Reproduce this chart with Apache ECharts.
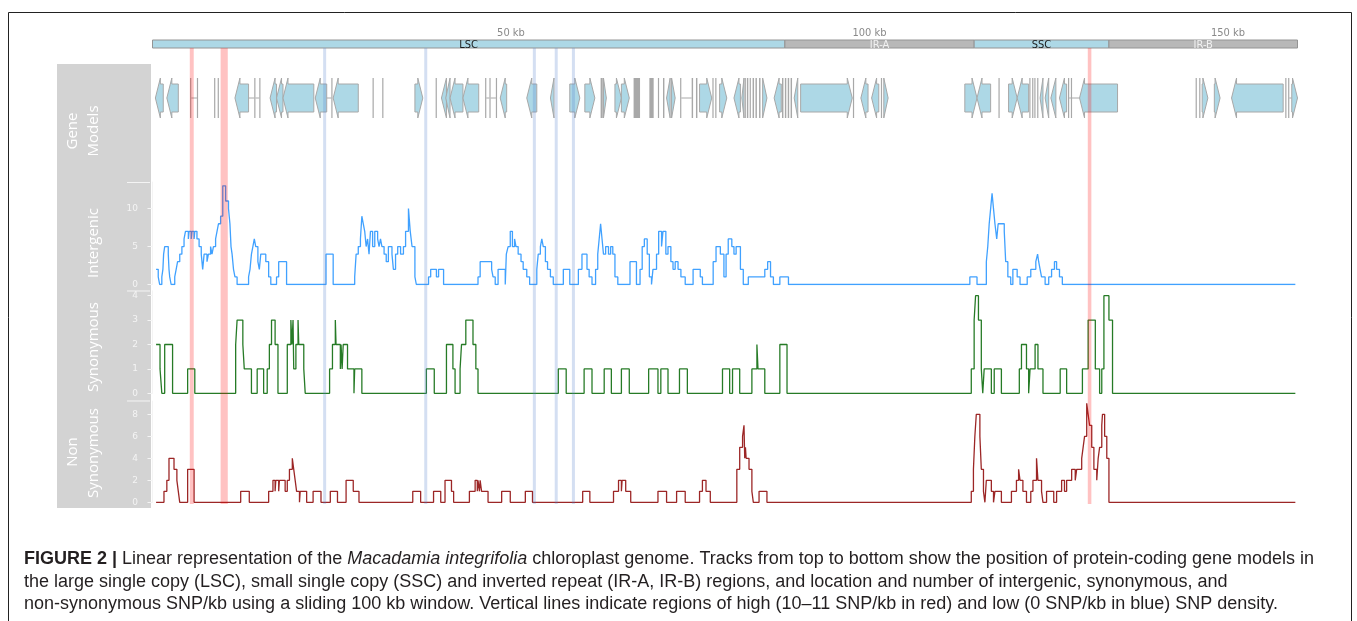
<!DOCTYPE html>
<html><head><meta charset="utf-8">
<script src="https://cdn.jsdelivr.net/npm/echarts@6/dist/echarts.min.js"></script>
<style>html,body{margin:0;padding:0;background:#fff}#c{width:1357px;height:621px}</style>
</head><body><div id="c"></div><script>
// ---------- data (positions in kb) ----------
const genomeKb = 159.7;
const tickKb = [50, 100, 150];
const regionStart = [0, 88.2, 114.6, 133.4];
const regionEnd = [88.2, 114.6, 133.4, 159.7];
const regionName = ['LSC', 'IR-A', 'SSC', 'IR-B'];
const regionRepeat = [0, 1, 0, 1];

// gene models: [start, end, strand (1 / -1 / 0 = tiny), grey]
const genes = [
[0.4,1.5,-1,0],[2.0,3.6,-1,0],[5.25,5.4,0,0],[6.2,6.35,0,0],[8.6,8.75,0,0],[9.1,9.25,0,0],
[11.5,13.4,-1,0],[14.2,14.35,0,0],[14.9,15.05,0,0],[16.4,17.3,-1,0],[17.3,18.2,-1,0],
[18.2,22.5,-1,0],[22.7,24.3,-1,0],[24.95,25.1,0,0],[25.2,28.7,-1,0],[30.7,30.85,0,0],[32.05,32.2,0,0],
[36.6,37.7,1,0],[39.5,39.65,0,0],[40.3,41.0,-1,0],[40.9,41.5,-1,0],[41.5,43.3,-1,0],[43.3,45.5,-1,0],
[46.4,46.55,0,0],[47.0,47.15,0,0],[47.9,48.05,0,0],[48.5,49.4,-1,0],[52.2,53.6,-1,0],[55.5,56.0,-1,0],
[58.2,59.6,1,0],[60.3,61.7,1,0],[62.5,62.8,0,0],[62.9,63.3,1,0],[64.5,65.4,1,0],[65.4,66.5,1,0],
[67.1,68.0,0,1],[69.3,69.9,0,1],[70.5,70.65,0,0],[71.2,71.4,0,0],[71.7,72.2,-1,0],[72.4,72.9,1,0],
[73.6,73.75,0,0],[75.2,75.4,0,0],[75.8,76.0,0,0],[76.3,78.0,1,0],[78.1,78.25,0,0],[78.5,78.65,0,0],
[79.1,80.1,1,0],[81.1,82.0,-1,0],[82.2,82.5,-1,0],[82.6,82.75,0,0],[82.9,83.1,0,0],[83.3,83.45,0,0],
[83.7,83.9,0,0],[84.1,84.3,0,0],[84.6,84.8,0,0],[85.1,85.7,1,0],[86.7,87.7,-1,0],[87.8,88.0,0,0],
[88.2,88.4,0,0],[88.6,88.8,0,0],[89.0,89.2,0,0],[89.5,90.0,-1,0],[90.4,97.6,1,0],[97.7,97.85,0,0],
[98.8,99.8,-1,0],[100.3,101.3,-1,0],[101.6,101.75,0,0],[102.0,102.6,1,0],
[113.3,115.0,1,0],[115.0,116.9,-1,0],[118.0,118.15,0,0],[119.4,120.6,1,0],[120.6,122.2,-1,0],
[122.3,122.45,0,0],[122.7,122.85,0,0],[123.0,123.15,0,0],[123.4,123.55,0,0],[123.8,124.2,-1,0],
[124.5,125.0,-1,0],[125.3,126.0,-1,0],[126.5,127.5,-1,0],[127.7,127.85,0,0],[128.1,128.25,0,0],
[129.3,134.6,-1,0],[145.5,145.65,0,0],[146.0,146.15,0,0],[146.4,147.2,1,0],[148.1,148.9,1,0],
[150.5,157.7,-1,0],[158.0,158.15,0,0],[158.4,158.55,0,0],[158.9,159.7,1,0]
];
const introns = [[5.4,6.2],[13.4,14.2],[14.35,14.9],[24.3,24.95],[46.55,47.0],[47.15,47.9],
  [73.75,75.2],[127.85,128.1],[128.25,129.3],[158.55,158.9]];

// highlighted windows: [start, end, high(1)/low(0)]
const highlights = [[5.2,5.75,1],[9.5,10.5,1],[130.45,130.95,1],
  [23.8,24.2,0],[37.9,38.3,0],[53.05,53.45,0],[56.1,56.5,0],[58.5,58.9,0]];

// SNP / kb step tracks: [position kb, value]
const intergenic = [
[0.5,2],[0.8,1],[1.0,0],[1.3,1],[1.45,2],[1.55,4],[1.7,5],[2.2,4],[2.3,2],[2.4,1],[2.6,0],[3.1,1],[3.3,2],
[3.5,3],[3.8,4],[4.1,5],[4.4,6],[4.6,7],[5.0,6],[5.1,7],[5.4,6],[5.5,7],[5.8,6],[5.9,7],[6.2,6],[6.5,5],
[6.8,4],[7.0,2],[7.2,4],[7.6,3],[7.8,4],[8.1,5],[8.3,4],[8.5,5],[8.8,6],[9.0,7],[9.2,8],[9.5,9],[9.8,13],
[10.2,11],[10.6,10],[10.8,8],[10.95,5],[11.1,4],[11.3,2],[11.5,1],[11.8,0],[13.4,1],[13.6,2],[13.8,4],
[14.0,5],[14.2,6],[14.4,5],[14.7,3],[14.9,2],[15.1,4],[15.8,3],[16.2,1],[16.5,0],[17.3,1],[17.6,3],[18.7,0],
[24.2,4],[25.2,0],[28.2,1],[28.4,4],[28.7,5],[29.0,6],[29.2,9],[29.4,8],[29.6,7],[29.8,5],[30.0,6],[30.2,4],
[30.4,7],[30.7,5],[31.0,7],[31.4,6],[31.6,5],[31.8,6],[32.0,5],[32.3,4],[32.6,3],[32.9,5],[33.4,4],[33.6,2],
[33.9,4],[34.2,5],[34.6,4],[35.0,5],[35.3,7],[35.7,10],[35.95,7],[36.2,5],[36.6,1],[36.8,0],[38.5,1],[38.8,2],
[39.6,1],[39.9,2],[40.6,0],[45.4,1],[45.7,3],[47.3,2],[47.5,1],[47.8,0],[48.2,2],[49.2,0],[49.35,4],[49.6,5],
[49.9,7],[50.2,5],[50.5,6],[50.7,5],[51.0,4],[51.4,3],[51.7,2],[52.2,1],[52.6,0],[53.6,2],[53.8,4],[54.1,5],
[54.3,6],[54.5,5],[54.8,3],[55.1,2],[55.5,1],[55.9,0],[57.3,2],[58.2,0],[59.4,2],[59.9,4],[60.6,2],[60.9,1],
[61.3,0],[61.8,2],[62.1,4],[62.3,6],[62.5,8],[62.7,6],[62.9,4],[63.2,5],[63.6,4],[63.9,5],[64.2,4],[64.5,1],
[64.9,0],[66.6,3],[67.5,0],[68.0,2],[68.3,5],[68.6,6],[69.0,4],[69.3,1],[69.6,0],[69.8,2],[70.3,4],[70.6,7],
[71.0,5],[71.2,7],[71.6,4],[71.9,5],[72.3,3],[72.6,2],[72.9,3],[73.3,2],[73.7,1],[74.3,0],[75.4,2],[76.4,1],
[76.7,0],[78.2,3],[78.6,5],[79.2,4],[79.7,1],[80.0,4],[80.3,6],[80.8,5],[81.1,4],[81.4,5],[82.0,2],[82.4,0],
[83.1,1],[84.8,1],[85.4,2],[85.8,3],[86.2,1],[86.6,0],[87.5,1],[88.7,0],[114.0,1],[115.0,0],[116.3,3],
[116.5,5],[116.7,8],[116.9,10],[117.1,12],[117.3,10],[117.5,8],[117.75,6],[117.95,8],[118.8,7],[119.0,3],
[119.3,1],[119.7,0],[120.0,2],[120.6,1],[121.0,0],[122.0,1],[122.5,2],[123.2,3],[123.45,4],[123.6,3],
[123.8,2],[124.0,1],[124.5,0],[125.0,1],[125.4,2],[125.8,3],[126.1,2],[126.5,1],[126.9,0],[159.4,0]
];
const synonymous = [
[0.5,2],[1.05,1],[1.3,0],[1.7,2],[2.8,0],[4.9,1],[5.9,0],[11.6,2],[11.8,3],[12.6,2],[12.8,1],[13.8,0],
[14.6,1],[15.5,0],[16.0,1],[16.3,2],[16.6,3],[17.1,2],[17.5,0],[18.8,2],[19.3,3],[19.45,2],[19.6,3],[19.7,1],
[20.0,2],[20.3,3],[20.4,2],[21.1,1],[21.3,0],[24.7,1],[25.1,2],[25.5,3],[25.6,2],[26.2,1],[26.3,2],[26.45,1],
[26.6,2],[27.2,1],[28.1,0],[28.2,1],[29.2,0],[38.2,1],[39.3,0],[41.0,2],[41.9,1],[42.2,0],[42.9,1],[43.1,2],
[43.7,3],[44.7,2],[45.1,1],[45.4,0],[56.6,1],[57.7,0],[60.2,1],[61.3,0],[63.0,1],[64.0,0],[65.4,1],[66.5,0],
[69.2,1],[70.5,0],[70.9,1],[71.9,0],[73.5,1],[74.6,0],[79.5,1],[80.5,0],[80.9,1],[81.9,0],[83.6,1],[84.3,2],
[84.45,1],[85.4,0],[87.5,2],[88.5,0],[114.2,1],[114.6,3],[114.8,4],[115.2,3],[115.6,1],[115.8,0],[116.0,1],
[117.0,0],[117.4,1],[118.4,0],[120.9,1],[121.2,2],[121.9,1],[122.2,0],[122.4,1],[123.1,2],[123.5,1],[124.2,0],
[126.6,1],[127.5,0],[129.7,1],[130.5,3],[131.5,1],[132.1,0],[132.4,1],[132.7,4],[133.4,3],[133.9,0],[159.4,0]
];
const nonSynonymous = [
[0.5,0],[1.6,1],[2.0,2],[2.3,4],[3.0,3],[3.4,2],[3.6,1],[3.8,0],[4.9,3],[5.8,0],[12.3,1],[13.5,0],[16.2,1],
[16.8,2],[17.1,1],[17.2,2],[17.6,1],[17.7,2],[18.5,1],[18.8,2],[19.1,3],[19.5,4],[19.7,3],[19.9,2],[20.1,1],
[20.5,0],[20.6,1],[21.5,0],[22.4,1],[23.5,0],[24.8,1],[25.8,0],[27.0,2],[28.0,1],[28.8,0],[36.3,1],[37.4,0],
[39.2,1],[40.2,0],[40.8,2],[41.7,1],[42.0,0],[44.2,1],[45.0,2],[45.3,1],[45.4,2],[45.6,1],[45.7,2],[45.9,1],
[46.8,0],[48.7,1],[49.9,0],[52.0,1],[53.0,0],[60.0,1],[61.0,0],[64.3,1],[65.0,2],[65.4,1],[65.5,2],[66.0,1],
[66.7,0],[70.5,1],[71.7,0],[73.1,1],[74.3,0],[76.3,1],[76.7,2],[77.2,1],[77.8,0],[81.5,3],[81.9,5],[82.3,6],
[82.5,7],[82.6,4],[82.7,5],[82.8,4],[83.2,3],[83.6,1],[83.8,0],[84.6,1],[85.7,0],[114.2,1],[114.5,3],[114.7,6],
[114.9,8],[115.4,6],[115.6,3],[115.9,1],[116.1,0],[116.2,1],[116.3,2],[117.0,1],[117.3,0],[117.5,1],[118.4,0],
[119.8,1],[120.5,2],[120.8,3],[121.0,2],[121.4,1],[121.9,0],[122.5,1],[122.8,2],[123.3,4],[123.5,2],[124.0,1],
[124.2,0],[124.7,1],[125.7,0],[126.1,1],[126.8,2],[127.2,1],[127.5,2],[128.2,3],[128.7,2],[128.9,3],[129.6,4],
[129.8,5],[130.0,6],[130.3,9],[130.5,8],[130.7,7],[131.0,5],[131.3,3],[131.7,2],[131.9,4],[132.1,5],[132.4,7],
[132.5,8],[132.8,6],[133.1,4],[133.4,0],[159.4,0]
];
const intergenicTicks = [0, 5, 10];
const synonymousTicks = [0, 1, 2, 3, 4];
const nonSynonymousTicks = [0, 2, 4, 6, 8];

// ---------- layout ----------
const L = 152.5, W = 1145;
const panelAxisColor = '#f4f4f4';
function xAx(i, extra) {
  return Object.assign({gridIndex: i, type: 'value', min: 0, max: genomeKb, show: false}, extra || {});
}
function dataY(i, max, ticks) {
  return {gridIndex: i, type: 'value', min: 0, max: max, position: 'left', offset: 3.5,
    axisLine: {show: true, lineStyle: {color: panelAxisColor, width: 1}},
    axisTick: {show: true, length: 5, customValues: ticks, lineStyle: {color: panelAxisColor}},
    axisLabel: {show: true, customValues: ticks, color: panelAxisColor, fontSize: 9, margin: 11, fontFamily: 'DejaVu Sans'},
    splitLine: {show: false}};
}
function plainY(i) { return {gridIndex: i, type: 'value', min: 0, max: 1, show: false}; }

const grids = [
  {left: L, width: W, top: 40, height: 8},      // 0 regions
  {left: L, width: W, top: 78, height: 40},     // 1 genes
  {left: L, width: W, top: 48, height: 456},    // 2 highlight bands
  {left: L, width: W, top: 182, height: 102.5}, // 3 intergenic
  {left: L, width: W, top: 290.8, height: 102.5}, // 4 synonymous
  {left: L, width: W, top: 401.1, height: 101.2}  // 5 non-synonymous
];

const regionData = regionStart.map((s, i) => [s, regionEnd[i], regionRepeat[i], regionName[i]]);

function renderRegion(params, api) {
  const p0 = api.coord([api.value(0), 1]);
  const p1 = api.coord([api.value(1), 0]);
  const rep = api.value(2);
  return {type: 'group', children: [
    {type: 'rect', shape: {x: p0[0], y: p0[1], width: p1[0] - p0[0], height: p1[1] - p0[1]},
     style: {fill: rep ? '#b8b8b8' : '#add8e6', stroke: '#949494', lineWidth: 1}},
    {type: 'text', x: (p0[0] + p1[0]) / 2, y: (p0[1] + p1[1]) / 2 + 1,
     style: {text: api.value(3), fill: rep ? '#f2f2f2' : '#1a1a1a', fontSize: 11, fontFamily: 'DejaVu Sans Condensed, DejaVu Sans',
       textAlign: 'center', textVerticalAlign: 'middle'}}
  ]};
}
function renderGene(params, api) {
  const a = api.coord([api.value(0), 0.5]);
  const b = api.coord([api.value(1), 0.5]);
  const strand = api.value(2), grey = api.value(3);
  const cy = a[1], hh = 20, bh = 14, head = 5;
  let x0 = a[0], x1 = b[0];
  const fill = grey ? '#a6a6a6' : '#add8e6';
  const stroke = '#a8a8a8';
  if (strand === 0) {
    const xm = (x0 + x1) / 2;
    return {type: 'line', shape: {x1: xm, y1: cy - hh, x2: xm, y2: cy + hh},
      style: {stroke: stroke, lineWidth: Math.max(1.2, x1 - x0)}};
  }
  const w = x1 - x0, h = Math.min(head, w);
  let pts;
  if (strand < 0) {
    pts = [[x0, cy], [x0 + h, cy - hh], [x0 + h, cy - bh], [x1, cy - bh], [x1, cy + bh], [x0 + h, cy + bh], [x0 + h, cy + hh]];
  } else {
    pts = [[x1, cy], [x1 - h, cy - hh], [x1 - h, cy - bh], [x0, cy - bh], [x0, cy + bh], [x1 - h, cy + bh], [x1 - h, cy + hh]];
  }
  return {type: 'polygon', shape: {points: pts}, style: {fill: fill, stroke: stroke, lineWidth: 1}};
}
function renderIntron(params, api) {
  const a = api.coord([api.value(0), 0.5]);
  const b = api.coord([api.value(1), 0.5]);
  return {type: 'line', shape: {x1: a[0], y1: a[1], x2: b[0], y2: b[1]}, style: {stroke: '#a8a8a8', lineWidth: 1}};
}
function renderBand(params, api) {
  const a = api.coord([api.value(0), 1]);
  const b = api.coord([api.value(1), 0]);
  const hi = api.value(2);
  return {type: 'rect', shape: {x: a[0], y: a[1], width: Math.max(b[0] - a[0], 3), height: b[1] - a[1]},
    style: {fill: hi ? 'rgba(255,0,0,0.24)' : 'rgba(90,130,205,0.26)'}};
}

function stepLine(name, xi, data, color) {
  return {name: name, type: 'line', xAxisIndex: xi, yAxisIndex: xi, data: data, step: 'end',
    showSymbol: false, symbol: 'none', silent: true, animation: false, z: 3,
    lineStyle: {color: color, width: 1.3, opacity: 0.85}};
}

const panelFont = "'Open Sans', 'Noto Sans', sans-serif";
function vText(x, y, t) {
  return {type: 'text', x: x, y: y, rotation: Math.PI / 2,
    style: {text: t, fill: '#ffffff', fontSize: 15, fontFamily: panelFont, textAlign: 'center', textVerticalAlign: 'middle'}};
}
function hLine(y) {
  return {type: 'line', shape: {x1: 127, y1: y, x2: 150, y2: y}, style: {stroke: panelAxisColor, lineWidth: 1}};
}
const capFont = "'Liberation Sans', Arial, sans-serif";
const capSize = 18;
const capRich = {b: {fontWeight: 'bold', fontSize: capSize, fontFamily: capFont, fill: '#231f20'},
                 i: {fontStyle: 'italic', fontSize: capSize, fontFamily: capFont, fill: '#231f20'}};
function capLine(y, t) {
  return {type: 'text', x: 24, y: y, style: {text: t, rich: capRich, fontSize: capSize, fontFamily: capFont,
    fill: '#231f20', textVerticalAlign: 'middle'}};
}

const chart = echarts.init(document.getElementById('c'), null, {renderer: 'canvas'});
chart.setOption({
  animation: false,
  backgroundColor: '#ffffff',
  grid: grids,
  xAxis: [
    xAx(0, {show: true, position: 'top', axisLine: {show: false}, axisTick: {show: false}, splitLine: {show: false},
      axisLabel: {show: true, customValues: tickKb, formatter: '{value} kb', color: '#8a8a8a', fontSize: 11, margin: 1,
        fontFamily: 'DejaVu Sans Condensed, DejaVu Sans'}}),
    xAx(1), xAx(2), xAx(3), xAx(4), xAx(5)
  ],
  yAxis: [plainY(0), plainY(1), plainY(2),
    dataY(3, 13.5, intergenicTicks), dataY(4, 4.2, synonymousTicks), dataY(5, 9.2, nonSynonymousTicks)],
  graphic: {elements: [
    {type: 'rect', z: -5, shape: {x: 57, y: 64, width: 94, height: 444}, style: {fill: '#d3d3d3'}},
    hLine(182.5), hLine(291), hLine(401),
    vText(73, 131, 'Gene'), vText(94, 131, 'Models'),
    vText(94, 243, 'Intergenic'),
    vText(94, 347, 'Synonymous'),
    vText(73, 452, 'Non'), vText(94, 453, 'Synonymous'),
    {type: 'rect', shape: {x: 8.5, y: 12.5, width: 1343, height: 640}, style: {fill: 'none', stroke: '#222', lineWidth: 1}},
    capLine(559, '{b|FIGURE 2 |} Linear representation of the {i|Macadamia integrifolia} chloroplast genome. Tracks from top to bottom show the position of protein-coding gene models in'),
    capLine(582, 'the large single copy (LSC), small single copy (SSC) and inverted repeat (IR-A, IR-B) regions, and location and number of intergenic, synonymous, and'),
    capLine(604, 'non-synonymous SNP/kb using a sliding 100 kb window. Vertical lines indicate regions of high (10–11 SNP/kb in red) and low (0 SNP/kb in blue) SNP density.')
  ]},
  series: [
    {type: 'custom', xAxisIndex: 0, yAxisIndex: 0, renderItem: renderRegion, data: regionData, silent: true, z: 2},
    {type: 'custom', xAxisIndex: 1, yAxisIndex: 1, renderItem: renderIntron, data: introns, silent: true, z: 2},
    {type: 'custom', xAxisIndex: 1, yAxisIndex: 1, renderItem: renderGene, data: genes, silent: true, z: 3},
    stepLine('Intergenic', 3, intergenic, '#1e90ff'),
    stepLine('Synonymous', 4, synonymous, '#006400'),
    stepLine('Non Synonymous', 5, nonSynonymous, '#8b0000'),
    {type: 'custom', xAxisIndex: 2, yAxisIndex: 2, renderItem: renderBand, data: highlights, silent: true, z: 10}
  ]
});
</script></body></html>
